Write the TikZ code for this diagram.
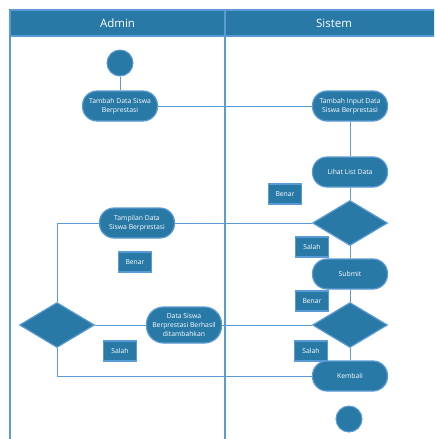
\documentclass[tikz,border=0pt]{standalone}
\usepackage{fontspec}
\setmainfont{Open Sans}
\usetikzlibrary{shapes.geometric}
\definecolor{swimfill}{HTML}{2979A6}
\definecolor{swimline}{HTML}{5B9BD5}
\begin{document}
\begin{tikzpicture}[x=1pt, y=-1pt,
  act/.style={rectangle, rounded corners=14.5pt, fill=swimfill, draw=swimline, line width=1.2pt,
    minimum width=75pt, minimum height=30pt, inner sep=0pt, align=center, text=white,
    font=\fontsize{6.8}{8.6}\selectfont},
  decision/.style={diamond, fill=swimfill, draw=swimline, line width=1.2pt,
    minimum width=75pt, minimum height=45pt, aspect=1.67, inner sep=0pt},
  guard/.style={rectangle, fill=swimfill, draw=swimline, line width=1.2pt,
    minimum width=33pt, minimum height=20pt, inner sep=0pt, text=white,
    font=\fontsize{6.8}{8.6}\selectfont},
  dot/.style={circle, fill=swimfill, draw=swimline, line width=1pt, minimum size=26pt, inner sep=0pt},
  flow/.style={draw=swimline, line width=0.9pt}]
\useasboundingbox (0,0) rectangle (434,439);
\clip (0,0) rectangle (434,439);
\fill[swimfill] (10,10) rectangle (445,36);
\draw[swimline, line width=1.5pt] (10,445) -- (10,10) -- (445,10);
\draw[swimline, line width=1.5pt] (10,36) -- (445,36);
\draw[swimline, line width=1.5pt] (225,10) -- (225,445);
\node[text=white, font=\fontsize{11.5}{13}\selectfont] (admin) at (117.5,23) {Admin};
\node[text=white, font=\fontsize{11.5}{13}\selectfont] (sistem) at (334,23) {Sistem};

\node[dot] (start) at (120,63) {};
\node[act] (tambah) at (120,106) {Tambah Data Siswa\\Berprestasi};
\node[act] (input) at (350,106) {Tambah Input Data\\Siswa Berprestasi};
\node[act] (lihat) at (350,172) {Lihat List Data};
\node[guard] (benar1) at (285,194) {Benar};
\node[decision] (cek1) at (350,223) {};
\node[guard] (salah1) at (312,247) {Salah};
\node[act] (submit) at (350,274) {Submit};
\node[act] (tampil) at (137,223) {Tampilan Data\\Siswa Berprestasi};
\node[guard] (benar2) at (135,262) {Benar};
\node[guard] (benar3) at (312,301) {Benar};
\node[decision] (cek2) at (350,325) {};
\node[decision] (cek3) at (57,325) {};
\node[act, minimum height=36pt, rounded corners=17pt] (berhasil) at (184,325) {Data Siswa\\Berprestasi Berhasil\\ditambahkan};
\node[guard] (salah2) at (120,351) {Salah};
\node[guard] (salah3) at (311,351) {Salah};
\node[act] (kembali) at (350,376) {Kembali};
\node[dot] (finish) at (349,419) {};

\draw[flow] (start) -- (tambah);
\draw[flow] (tambah) -- (input);
\draw[flow] (input) -- (lihat);
\draw[flow] (lihat) -- (cek1);
\draw[flow] (cek1) -- (submit);
\draw[flow] (submit) -- (cek2);
\draw[flow] (cek2) -- (kembali);
\draw[flow] (cek1.west) -- (tampil.east);
\draw[flow] (tampil.west) -| (cek3.north);
\draw[flow] (cek2.west) -- (berhasil.east);
\draw[flow] (berhasil.west) -- (cek3.east);
\draw[flow] (cek3.south) |- (kembali.west);
\end{tikzpicture}
\end{document}
